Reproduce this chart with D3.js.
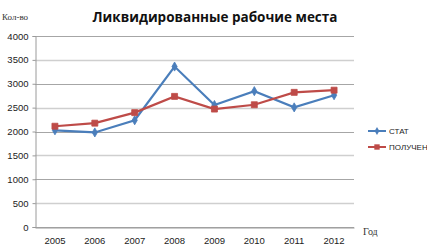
<!DOCTYPE html>
<html>
<head>
<meta charset="utf-8">
<script src="https://cdn.jsdelivr.net/npm/d3@7"></script>
<style>
  body { margin: 0; background: #fff; }
  svg { display: block; }
</style>
</head>
<body>
<div id="chart"></div>
<script>
// Chart data
const years = ["2005", "2006", "2007", "2008", "2009", "2010", "2011", "2012"];
const statValues = [2025, 1980, 2235, 3360, 2555, 2845, 2505, 2760];
const receivedValues = [2110, 2175, 2395, 2735, 2470, 2560, 2820, 2865];
const seriesNames = ["СТАТ", "ПОЛУЧЕН"];
const yTicks = [0, 500, 1000, 1500, 2000, 2500, 3000, 3500, 4000];

const width = 427, height = 248;
const margin = { top: 36, right: 73, bottom: 21, left: 35 };

const svg = d3.select("#chart").append("svg")
    .attr("width", width)
    .attr("height", height);

const x = d3.scaleBand()
    .domain(years)
    .range([margin.left, width - margin.right]);

const y = d3.scaleLinear()
    .domain([0, 4000])
    .range([height - margin.bottom, margin.top]);

// gridlines
svg.append("g")
    .selectAll("line")
    .data(yTicks)
  .join("line")
    .attr("x1", margin.left)
    .attr("x2", width - margin.right)
    .attr("y1", d => Math.round(y(d)) + 0.5)
    .attr("y2", d => Math.round(y(d)) + 0.5)
    .attr("stroke", d => d % 1000 === 0 ? "#a6a6a6" : "#cfcfcf")
    .attr("stroke-width", d => d % 1000 === 0 ? 1 : 1.5);

// y axis
const yAxis = svg.append("g")
    .attr("transform", `translate(${margin.left + 0.5},0)`)
    .call(d3.axisLeft(y).tickValues(yTicks).tickFormat(d3.format("d")).tickSize(3).tickPadding(4));
yAxis.select(".domain").attr("stroke", "#9a9a9a");
yAxis.selectAll(".tick line").attr("stroke", "#9a9a9a");
yAxis.selectAll("text")
    .attr("font-family", "Liberation Sans, Arial, sans-serif")
    .attr("font-size", 9.5)
    .attr("fill", "#222");

// x axis
const xAxis = svg.append("g")
    .attr("transform", `translate(0,${Math.round(y(0)) + 0.5})`)
    .call(d3.axisBottom(x).tickSize(0).tickPadding(10));
xAxis.select(".domain").attr("stroke", "#9a9a9a");
xAxis.selectAll("text")
    .attr("font-family", "Liberation Sans, Arial, sans-serif")
    .attr("font-size", 9.5)
    .attr("fill", "#222");

const cx = d => x(d) + x.bandwidth() / 2;

const series = [
    { name: seriesNames[0], values: statValues, color: "#4a7ebb", symbol: d3.symbolDiamond, size: 24 },
    { name: seriesNames[1], values: receivedValues, color: "#be4b48", symbol: d3.symbolSquare, size: 36 }
];

const line = d3.line()
    .x(d => cx(d.year))
    .y(d => y(d.value));

series.forEach(s => {
    const pts = years.map((yr, i) => ({ year: yr, value: s.values[i] }));
    svg.append("path")
        .datum(pts)
        .attr("fill", "none")
        .attr("stroke", s.color)
        .attr("stroke-width", 2.2)
        .attr("d", line);
    svg.append("g")
        .selectAll("path")
        .data(pts)
      .join("path")
        .attr("transform", d => `translate(${cx(d.year)},${y(d.value)})`)
        .attr("d", d3.symbol().type(s.symbol).size(s.size))
        .attr("fill", s.color)
        .attr("stroke", s.color)
        .attr("stroke-width", 0.8);
});

// legend
const legend = svg.append("g").attr("transform", "translate(368,131)");
series.forEach((s, i) => {
    const g = legend.append("g").attr("transform", `translate(0,${i * 16})`);
    g.append("line")
        .attr("x1", 0).attr("x2", 18)
        .attr("stroke", s.color).attr("stroke-width", 2);
    g.append("path")
        .attr("transform", "translate(9,0)")
        .attr("d", d3.symbol().type(s.symbol).size(s.size * 0.8))
        .attr("fill", s.color);
    g.append("text")
        .attr("x", 21).attr("y", 3)
        .attr("font-family", "Liberation Sans, Arial, sans-serif")
        .attr("font-size", 8)
        .attr("fill", "#222")
        .text(s.name);
});

// title and axis labels
svg.append("text")
    .attr("x", 215).attr("y", 22)
    .attr("text-anchor", "middle")
    .attr("font-family", "Open Sans, sans-serif")
    .attr("font-weight", "bold")
    .attr("font-size", 13.5)
    .attr("fill", "#111")
    .text("Ликвидированные рабочие места");

svg.append("text")
    .attr("x", 2).attr("y", 20)
    .attr("font-family", "Liberation Serif, Times New Roman, serif")
    .attr("font-size", 9)
    .attr("fill", "#333")
    .text("Кол-во");

svg.append("text")
    .attr("x", 363).attr("y", 235)
    .attr("font-family", "Liberation Serif, Times New Roman, serif")
    .attr("font-size", 10)
    .attr("fill", "#333")
    .text("Год");
</script>
</body>
</html>
